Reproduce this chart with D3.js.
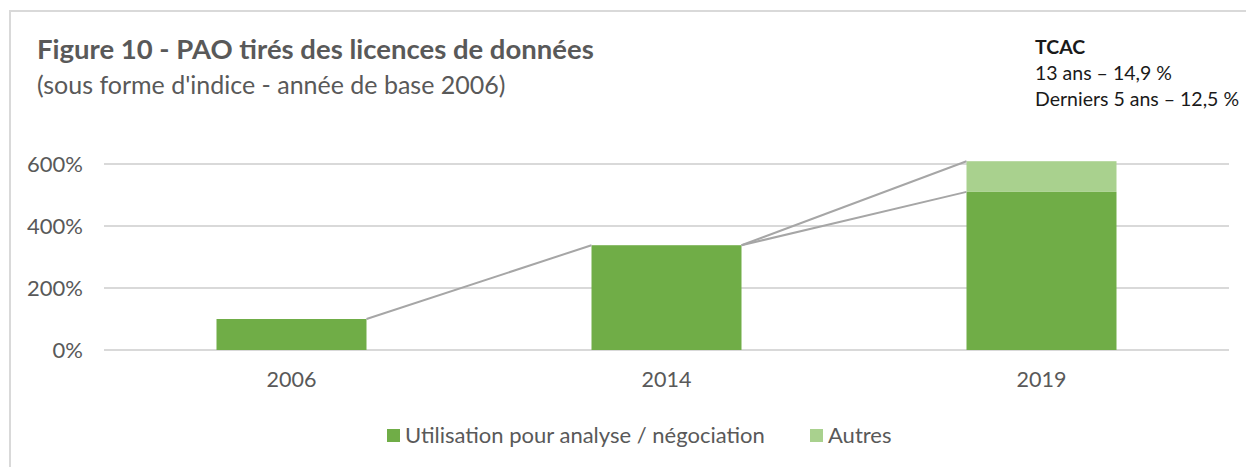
<!DOCTYPE html>
<html>
<head>
    <meta charset="utf-8">
    <title>Figure 10</title>
    <script src="https://d3js.org/d3.v7.min.js"></script>
    <style>
        body { margin: 0; background: #fff; }
        text { font-family: Lato, "Open Sans", sans-serif; }
    </style>
</head>
<body>
<div id="chart"></div>
<script type="text/javascript">

    // data (index, 2006 = 100%)
    let years = ["2006", "2014", "2019"];
    let analyse = [100, 338, 510];
    let autres = [0, 0, 99];
    let yTicks = [0, 200, 400, 600];
    let seriesNames = ["Utilisation pour analyse / négociation", "Autres"];
    let tcacLines = ["TCAC", "13 ans – 14,9 %", "Derniers 5 ans – 12,5 %"];

    let W = 1246, H = 467;
    let colors = ["#70ad47", "#a9d18e"];
    let textColor = "#595959";

    let svg = d3.select("#chart")
        .append("svg")
            .attr("width", W)
            .attr("height", H);

    // frame (only top and left edges visible)
    svg.append("line").attr("x1", 10).attr("x2", W).attr("y1", 11).attr("y2", 11)
        .attr("stroke", "#d9d9d9").attr("stroke-width", 2);
    svg.append("line").attr("x1", 10).attr("x2", 10).attr("y1", 10).attr("y2", H)
        .attr("stroke", "#d9d9d9").attr("stroke-width", 2);

    // titles
    svg.append("text")
        .attr("x", 37).attr("y", 59)
        .attr("font-size", "27.5px").attr("font-weight", "bold")
        .attr("fill", textColor)
        .text("Figure 10 - PAO tirés des licences de données");
    svg.append("text")
        .attr("x", 37).attr("y", 94)
        .attr("font-size", "25px")
        .attr("fill", textColor)
        .text("(sous forme d'indice - année de base 2006)");

    svg.selectAll(".tcac")
        .data(tcacLines)
        .enter()
        .append("text")
        .attr("class", "tcac")
        .attr("x", 1035)
        .attr("y", (d, i) => 54 + i * 26)
        .attr("font-size", "19.5px")
        .attr("font-weight", (d, i) => i == 0 ? "bold" : "normal")
        .attr("fill", "#1a1a1a")
        .text(d => d);

    let xScale = d3.scaleBand()
        .domain(years)
        .range([104, 1229])
        .paddingInner(0.6)
        .paddingOuter(0.3);

    let yScale = d3.scaleLinear()
        .domain([0, 600])
        .range([350, 164]);

    // gridlines
    svg.append("g")
        .selectAll("line")
        .data(yTicks)
        .enter()
        .append("line")
        .attr("x1", 104).attr("x2", 1229)
        .attr("y1", d => yScale(d)).attr("y2", d => yScale(d))
        .attr("stroke", "#d9d9d9").attr("stroke-width", 2);

    let yAxis = d3.axisLeft(yScale)
        .tickValues(yTicks)
        .tickSize(0)
        .tickPadding(0)
        .tickFormat(d => d + "%");
    let gy = svg.append("g")
        .attr("transform", "translate(83,0)")
        .call(yAxis);
    gy.select(".domain").remove();
    gy.selectAll("text")
        .attr("font-size", "22px")
        .attr("fill", textColor)
        .style("font-family", "Lato, sans-serif");

    let xAxis = d3.axisBottom(xScale).tickSize(0).tickPadding(0);
    let gx = svg.append("g")
        .attr("transform", "translate(0,372)")
        .call(xAxis);
    gx.select(".domain").remove();
    gx.selectAll("text")
        .attr("font-size", "21.5px")
        .attr("fill", textColor)
        .style("font-family", "Lato, sans-serif");

    // stacked bars
    let table = years.map((y, i) => ({year: y, analyse: analyse[i], autres: autres[i]}));
    let stack = d3.stack().keys(["analyse", "autres"])(table);

    svg.append("g")
        .selectAll("g")
        .data(stack)
        .enter()
        .append("g")
        .attr("fill", (d, i) => colors[i])
        .selectAll("rect")
        .data(d => d)
        .enter()
        .append("rect")
        .attr("x", d => xScale(d.data.year))
        .attr("y", d => yScale(d[1]))
        .attr("width", xScale.bandwidth())
        .attr("height", d => yScale(d[0]) - yScale(d[1]));

    // connector lines between bar tops
    let connectors = [];
    for (let i = 0; i < years.length - 1; i++) {
        let x1 = xScale(years[i]) + xScale.bandwidth();
        let x2 = xScale(years[i + 1]);
        let top1 = analyse[i] + autres[i];
        connectors.push([x1, yScale(top1), x2, yScale(analyse[i + 1])]);
        if (autres[i + 1] > 0) {
            connectors.push([x1, yScale(top1), x2, yScale(analyse[i + 1] + autres[i + 1])]);
        }
    }
    svg.append("g")
        .selectAll("line")
        .data(connectors)
        .enter()
        .append("line")
        .attr("x1", d => d[0]).attr("y1", d => d[1])
        .attr("x2", d => d[2]).attr("y2", d => d[3])
        .attr("stroke", "#a6a6a6").attr("stroke-width", 2);

    // legend
    let legendX = [387, 810];
    let legend = svg.append("g")
        .selectAll("g")
        .data(seriesNames)
        .enter()
        .append("g")
        .attr("transform", (d, i) => "translate(" + legendX[i] + ",429)");
    legend.append("rect")
        .attr("width", 13).attr("height", 13)
        .attr("fill", (d, i) => colors[i]);
    legend.append("text")
        .attr("x", 18).attr("y", 14)
        .attr("font-size", "22px")
        .attr("fill", textColor)
        .text(d => d);

</script>
</body>
</html>
